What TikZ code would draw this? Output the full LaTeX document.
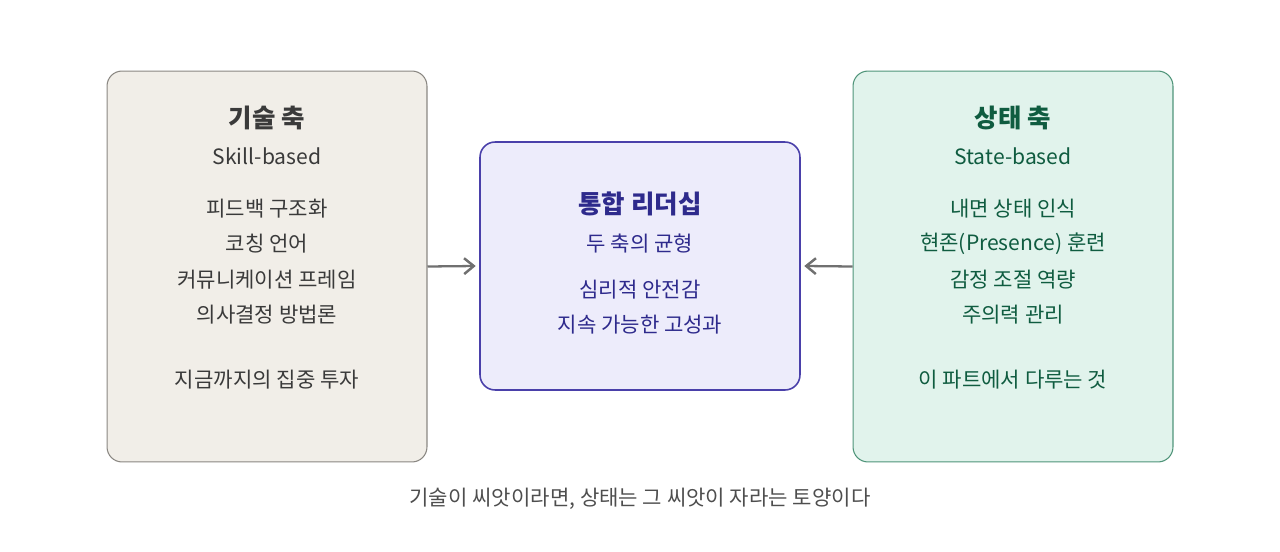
\documentclass[tikz,border=0pt]{standalone}
\usepackage{fontspec}
\setmainfont{Noto Sans CJK KR}
\usetikzlibrary{arrows.meta}

\definecolor{skillfill}{HTML}{F1EEE8}
\definecolor{skillline}{HTML}{8A8782}
\definecolor{skilltext}{HTML}{3A3A3A}
\definecolor{statefill}{HTML}{E1F3EC}
\definecolor{stateline}{HTML}{4F9479}
\definecolor{statetext}{HTML}{0F5C40}
\definecolor{leadfill}{HTML}{EDECFB}
\definecolor{leadline}{HTML}{4A40AA}
\definecolor{leadtext}{HTML}{2E2A8C}
\definecolor{arrowgray}{HTML}{707070}

\begin{document}
\begin{tikzpicture}[x=0.02cm, y=-0.02cm,
    box/.style={draw, rounded corners=0.3cm, line width=0.6pt, minimum width=6.4cm},
    title/.style={font=\bfseries\fontsize{14.5}{17}\selectfont},
    item/.style={font=\fontsize{12}{14}\selectfont},
    link/.style={-{Straight Barb[length=5.5pt, width=9pt, line width=1.4pt]}, arrowgray, line width=1.3pt}]
    \useasboundingbox (0,0) rectangle (1280,551);
    % three boxes
    \node[box, fill=skillfill, draw=skillline, minimum height=7.82cm] (skill) at (267,266.5) {};
    \node[box, fill=leadfill, draw=leadline, line width=0.9pt, minimum height=4.96cm] (lead) at (640,266) {};
    \node[box, fill=statefill, draw=stateline, minimum height=7.82cm] (state) at (1013,266.5) {};
    % skill axis
    \node[title, skilltext] (skillT) at (267,118) {기술 축};
    \node[item, skilltext] (skillS) at (267,156) {Skill-based};
    \node[item, skilltext] (skillA) at (267,209) {피드백 구조화};
    \node[item, skilltext] (skillB) at (267,244) {코칭 언어};
    \node[item, skilltext] (skillC) at (267,280) {커뮤니케이션 프레임};
    \node[item, skilltext] (skillD) at (267,315) {의사결정 방법론};
    \node[item, skilltext] (skillE) at (267,380) {지금까지의 집중 투자};
    % integrated leadership
    \node[title, leadtext] (leadT) at (640,204) {통합 리더십};
    \node[item, leadtext] (leadS) at (640,244) {두 축의 균형};
    \node[item, leadtext] (leadA) at (640,290) {심리적 안전감};
    \node[item, leadtext] (leadB) at (640,325) {지속 가능한 고성과};
    % state axis
    \node[title, statetext] (stateT) at (1013,118) {상태 축};
    \node[item, statetext] (stateS) at (1013,156) {State-based};
    \node[item, statetext] (stateA) at (1013,209) {내면 상태 인식};
    \node[item, statetext] (stateB) at (1013,244) {현존(Presence) 훈련};
    \node[item, statetext] (stateC) at (1013,280) {감정 조절 역량};
    \node[item, statetext] (stateD) at (1013,315) {주의력 관리};
    \node[item, statetext] (stateE) at (1013,380) {이 파트에서 다루는 것};
    % arrows
    \draw[link] (skill.east) -- ([xshift=-2pt]lead.west);
    \draw[link] (state.west) -- ([xshift=2pt]lead.east);
    \node[item, text=skilltext!90!white] (motto) at (640,499) {기술이 씨앗이라면, 상태는 그 씨앗이 자라는 토양이다};
\end{tikzpicture}
\end{document}
